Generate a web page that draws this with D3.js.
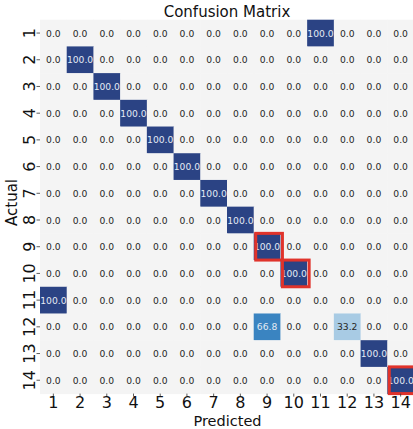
<!DOCTYPE html>
<html>
<head>
<meta charset="utf-8">
<script src="https://cdn.jsdelivr.net/npm/d3@7"></script>
<style>
  html, body { margin: 0; padding: 0; background: #ffffff; }
  svg { display: block; font-family: "DejaVu Sans", sans-serif; }
</style>
</head>
<body>
<svg id="chart" width="413" height="429"></svg>
<script>
// Class labels (shared by both axes)
const classes = ["1","2","3","4","5","6","7","8","9","10","11","12","13","14"];

// Row-normalised confusion matrix (%), rows = actual, columns = predicted
const matrix = [
  [0,0,0,0,0,0,0,0,0,0,100,0,0,0],
  [0,100,0,0,0,0,0,0,0,0,0,0,0,0],
  [0,0,100,0,0,0,0,0,0,0,0,0,0,0],
  [0,0,0,100,0,0,0,0,0,0,0,0,0,0],
  [0,0,0,0,100,0,0,0,0,0,0,0,0,0],
  [0,0,0,0,0,100,0,0,0,0,0,0,0,0],
  [0,0,0,0,0,0,100,0,0,0,0,0,0,0],
  [0,0,0,0,0,0,0,100,0,0,0,0,0,0],
  [0,0,0,0,0,0,0,0,100,0,0,0,0,0],
  [0,0,0,0,0,0,0,0,0,100,0,0,0,0],
  [100,0,0,0,0,0,0,0,0,0,0,0,0,0],
  [0,0,0,0,0,0,0,0,66.8,0,0,33.2,0,0],
  [0,0,0,0,0,0,0,0,0,0,0,0,100,0],
  [0,0,0,0,0,0,0,0,0,0,0,0,0,100]
];

// Cells outlined in red: [actual, predicted]
const highlighted = [["9","9"], ["10","10"], ["14","14"]];

const svg = d3.select("#chart");

const x = d3.scaleBand().domain(classes).range([40, 414]).padding(0);
const y = d3.scaleBand().domain(classes).range([19.7, 393.6]).padding(0);

const color = d3.scaleLinear()
  .domain([0, 33.2, 66.8, 100])
  .range(["#f4f4f4", "#a8cbe4", "#3a84c1", "#2b4384"])
  .clamp(true);

const cells = [];
matrix.forEach((row, i) => row.forEach((v, j) => {
  cells.push({ actual: classes[i], predicted: classes[j], value: v });
}));

const g = svg.append("g");

g.selectAll("rect.cell")
  .data(cells)
  .join("rect")
  .attr("class", "cell")
  .attr("x", d => x(d.predicted))
  .attr("y", d => y(d.actual))
  .attr("width", x.bandwidth() + 0.5)
  .attr("height", y.bandwidth() + 0.5)
  .attr("fill", d => color(d.value));

g.selectAll("text.val")
  .data(cells)
  .join("text")
  .attr("class", "val")
  .attr("x", d => x(d.predicted) + x.bandwidth() / 2)
  .attr("y", d => y(d.actual) + y.bandwidth() / 2)
  .attr("text-anchor", "middle")
  .attr("dominant-baseline", "central")
  .attr("font-size", 9.2)
  .attr("fill", d => d.value > 50 ? "#e4ebf4" : "#262626")
  .text(d => d.value.toFixed(1));

// Red outlines on the selected cells
g.selectAll("rect.hl")
  .data(highlighted)
  .join("rect")
  .attr("class", "hl")
  .attr("x", d => x(d[1]) + 2)
  .attr("y", d => y(d[0]))
  .attr("width", x.bandwidth())
  .attr("height", y.bandwidth())
  .attr("fill", "none")
  .attr("stroke", "#e0332b")
  .attr("stroke-width", 3);

// Axes
const xAxis = d3.axisBottom(x).tickSize(3);
const yAxis = d3.axisLeft(y).tickSize(3.5).tickPadding(2);

const gx = svg.append("g").attr("transform", "translate(0,393.6)").call(xAxis);
gx.select(".domain").remove();
gx.selectAll(".tick line").attr("stroke", "#333").attr("stroke-width", 0.8);
gx.selectAll(".tick text")
  .attr("font-family", "DejaVu Sans, sans-serif")
  .attr("font-size", 16)
  .attr("fill", "#111")
  .attr("dy", null)
  .attr("y", 14.7);

const gy = svg.append("g").attr("transform", "translate(40,0)").call(yAxis);
gy.select(".domain").remove();
gy.selectAll(".tick line").attr("stroke", "#333").attr("stroke-width", 0.8);
gy.selectAll(".tick text")
  .attr("font-family", "DejaVu Sans, sans-serif")
  .attr("font-size", 16)
  .attr("fill", "#111")
  .attr("x", null)
  .attr("dy", null)
  .attr("text-anchor", "middle")
  .attr("transform", "translate(-11,0) rotate(-90)")
  .attr("dominant-baseline", "central");

// Title and axis labels
svg.append("text")
  .attr("x", 227)
  .attr("y", 17)
  .attr("text-anchor", "middle")
  .attr("font-size", 15)
  .attr("fill", "#111")
  .text("Confusion Matrix");

svg.append("text")
  .attr("x", 227.5)
  .attr("y", 425.5)
  .attr("text-anchor", "middle")
  .attr("font-size", 14.5)
  .attr("fill", "#111")
  .text("Predicted");

svg.append("text")
  .attr("transform", "translate(16.5,202.5) rotate(-90)")
  .attr("text-anchor", "middle")
  .attr("font-size", 15)
  .attr("fill", "#111")
  .text("Actual");
</script>
</body>
</html>
